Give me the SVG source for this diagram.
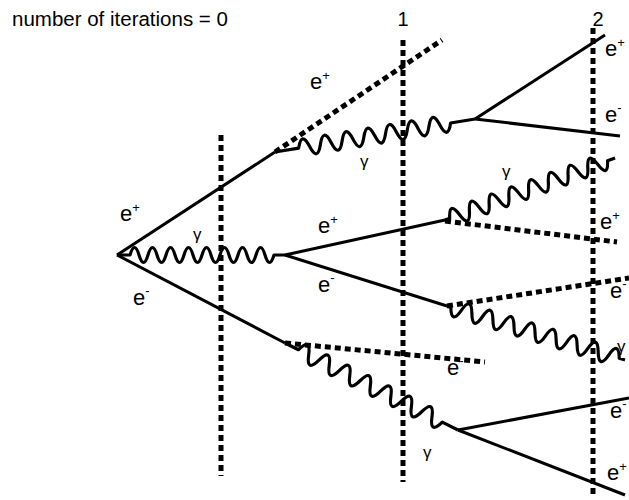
<svg xmlns="http://www.w3.org/2000/svg" width="629" height="500" viewBox="0 0 629 500">
<style>
.solid{fill:none;stroke:#000;stroke-width:3;stroke-linecap:butt}
.dash{fill:none;stroke:#000;stroke-width:5;stroke-dasharray:6 4}
.wave{fill:none;stroke:#000;stroke-width:3.2;stroke-linejoin:round}
.lbl{font-family:"Liberation Sans",Arial,Helvetica,sans-serif;fill:#000}
.e{font-size:22px}
.g{font-size:17px}
.sup{font-size:13px}
</style>
<rect width="629" height="500" fill="#fff"/>
<g id="iterations">
<text class="lbl" x="12" y="26" font-size="20.5">number of iterations = 0</text>
<text class="lbl" x="403" y="26" font-size="20" text-anchor="middle">1</text>
<text class="lbl" x="598" y="26" font-size="20" text-anchor="middle">2</text>
<line class="dash" x1="221" y1="135" x2="221" y2="476"/>
<line class="dash" x1="403" y1="40" x2="403" y2="482"/>
<line class="dash" x1="593" y1="28" x2="593" y2="495"/>
</g>
<g id="connectors">
<line class="solid" x1="117" y1="255" x2="275" y2="152"/>
<line class="solid" x1="117" y1="255" x2="285" y2="343"/>
<line class="solid" x1="285" y1="255" x2="445" y2="220"/>
<line class="solid" x1="285" y1="255" x2="447" y2="306"/>
<line class="solid" x1="475" y1="119" x2="605" y2="35"/>
<line class="solid" x1="475" y1="119" x2="620" y2="136"/>
<line class="solid" x1="458" y1="430" x2="629" y2="398"/>
<line class="solid" x1="458" y1="430" x2="625" y2="495"/>
<line class="dash" x1="275" y1="152" x2="442" y2="40"/>
<line class="dash" x1="445" y1="221" x2="617" y2="242"/>
<line class="dash" x1="447" y1="306" x2="629" y2="278"/>
<line class="dash" x1="285" y1="343" x2="485" y2="362"/>
<path class="wave" transform="translate(117,255)" d="M0,0 h13 q4.5,-15 9,0 t9,0 t9,0 t9,0 t9,0 t9,0 t9,0 t9,0 t9,0 t9,0 t9,0 t9,0 t9,0 t9,0 t9,0 t9,0 h11"/>
<path class="wave" transform="translate(275,152) rotate(-9.37)" d="M0,0 h24 q5.5,-17 11,0 t11,0 t11,0 t11,0 t11,0 t11,0 t11,0 t11,0 t11,0 t11,0 t11,0 t11,0 t11,0 t11,0 h24.7"/>
<path class="wave" transform="translate(445,220) rotate(-20.04)" d="M0,0 h5 q5.25,-17 10.5,0 t10.5,0 t10.5,0 t10.5,0 t10.5,0 t10.5,0 t10.5,0 t10.5,0 t10.5,0 t10.5,0 t10.5,0 t10.5,0 t10.5,0 t10.5,0 t10.5,0 t10.5,0 h8"/>
<path class="wave" transform="translate(447,306) rotate(16.88)" d="M0,0 h4 q5.5,17 11,0 t11,0 t11,0 t11,0 t11,0 t11,0 t11,0 t11,0 t11,0 t11,0 t11,0 t11,0 t11,0 t11,0 t11,0 t11,0 h6"/>
<path class="wave" transform="translate(285,343) rotate(26.70)" d="M0,0 h15 q5.75,-17 11.5,0 t11.5,0 t11.5,0 t11.5,0 t11.5,0 t11.5,0 t11.5,0 t11.5,0 t11.5,0 t11.5,0 t11.5,0 t11.5,0 t11.5,0 t11.5,0 h17.6"/>
</g>
<g id="labels" class="lbl">
<text class="e" x="120" y="221">e<tspan class="sup" dy="-9">+</tspan></text>
<text class="g" x="193" y="240">γ</text>
<text class="e" x="133" y="305">e<tspan class="sup" dy="-10">-</tspan></text>
<text class="e" x="310" y="89">e<tspan class="sup" dy="-9">+</tspan></text>
<text class="g" x="360" y="167">γ</text>
<text class="e" x="605" y="56">e<tspan class="sup" dy="-9">+</tspan></text>
<text class="e" x="605" y="122">e<tspan class="sup" dy="-10">-</tspan></text>
<text class="g" x="502" y="177">γ</text>
<text class="e" x="318" y="233">e<tspan class="sup" dy="-9">+</tspan></text>
<text class="e" x="318" y="292">e<tspan class="sup" dy="-10">-</tspan></text>
<text class="e" x="600" y="229">e<tspan class="sup" dy="-9">+</tspan></text>
<text class="e" x="610" y="298">e<tspan class="sup" dy="-10">-</tspan></text>
<text class="g" x="617" y="352">γ</text>
<text class="e" x="447" y="375">e<tspan class="sup" dy="-10">-</tspan></text>
<text class="e" x="610" y="418">e<tspan class="sup" dy="-10">-</tspan></text>
<text class="e" x="607" y="480">e<tspan class="sup" dy="-9">+</tspan></text>
<text class="g" x="423" y="458">γ</text>
</g>
</svg>
